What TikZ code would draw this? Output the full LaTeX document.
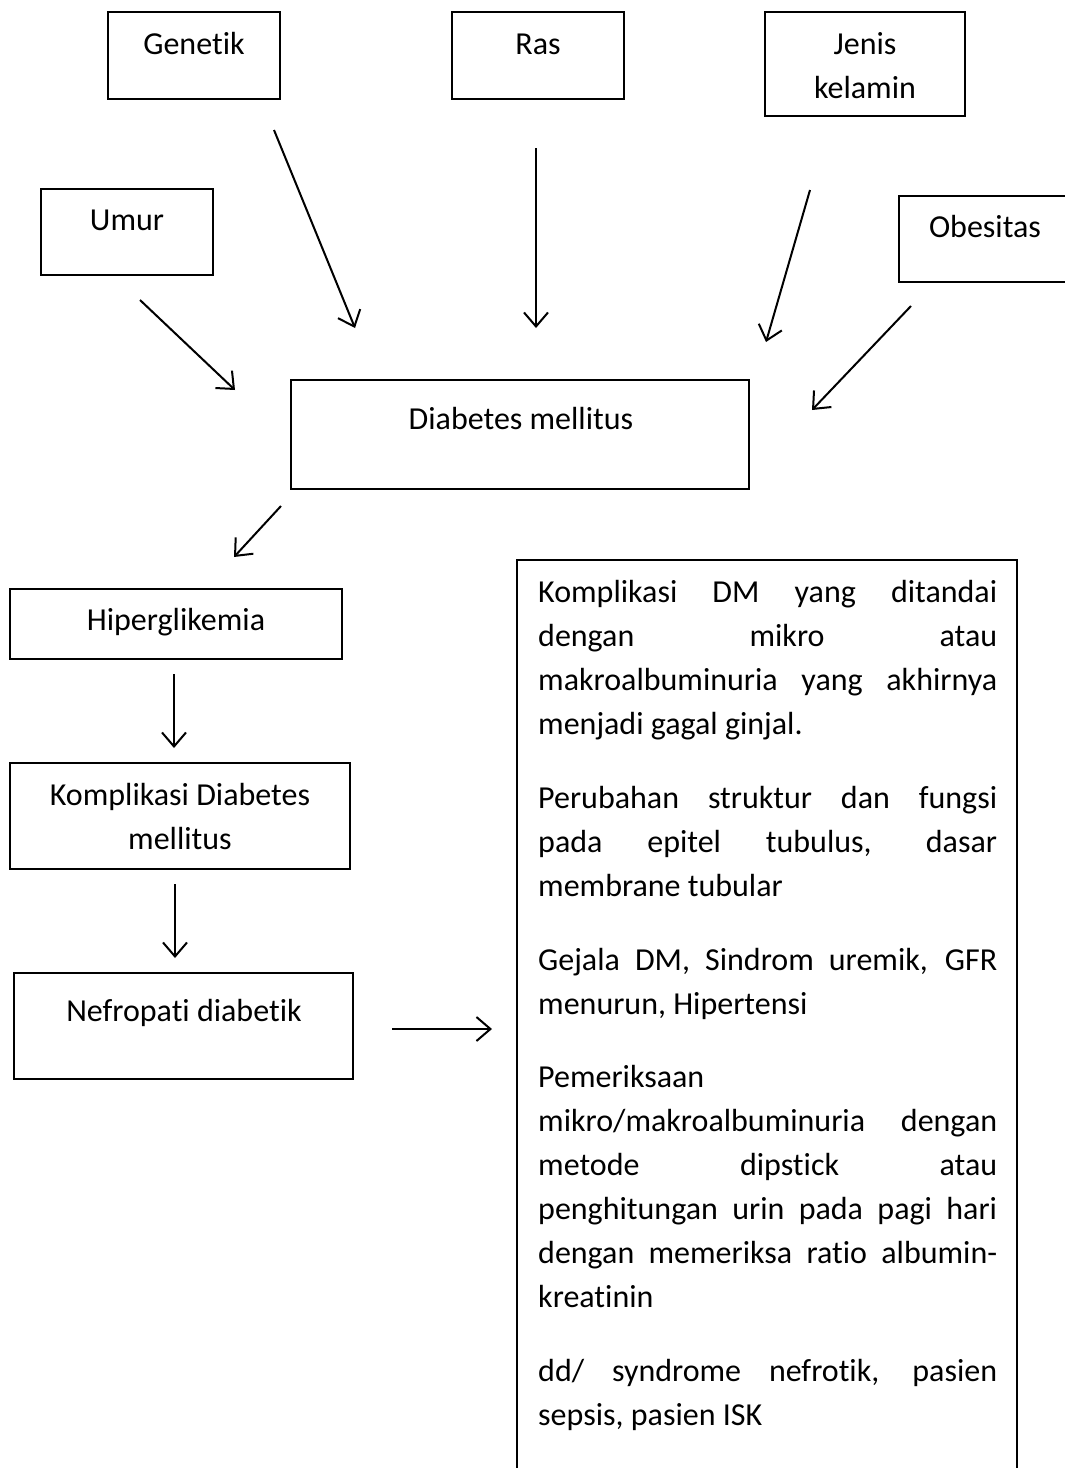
\documentclass[tikz,border=0pt]{standalone}
\usepackage{fontspec}
\setmainfont{Carlito}[Ligatures=NoCommon]
\usetikzlibrary{arrows.meta}
\tikzset{
  box/.style={draw=black, line width=1.3pt, rectangle, inner sep=0pt},
  lbl/.style={anchor=base, inner sep=0pt, font=\fontsize{32}{44}\selectfont},
  arr/.style={line width=2pt, -{Straight Barb[length=14pt,width=24pt,line width=2pt]}}
}
\begin{document}
\begin{tikzpicture}[x=1pt,y=-1pt]
\useasboundingbox (0,0) rectangle (1065,1468);
\clip (0,0) rectangle (1065,1468);
% boxes
\node[box, minimum width=172pt, minimum height=87pt] (gen) at (194,55.5) {};
\node[box, minimum width=172pt, minimum height=87pt] (ras) at (538,55.5) {};
\node[box, minimum width=200pt, minimum height=104pt] (jk) at (865,64) {};
\node[box, minimum width=172pt, minimum height=86pt] (umur) at (127,232) {};
\node[box, minimum width=190pt, minimum height=86pt] (obe) at (994,239) {};
\node[box, minimum width=458pt, minimum height=109pt] (dm) at (520,434.5) {};
\node[box, minimum width=332pt, minimum height=70pt] (hip) at (176,624) {};
\node[box, minimum width=340pt, minimum height=106pt] (kom) at (180,816) {};
\node[box, minimum width=339pt, minimum height=106pt] (nef) at (183.5,1026) {};
\node[box, minimum width=500pt, minimum height=940pt] (big) at (767,1030) {};
% labels
\node[lbl] at (194,54) {Genetik};
\node[lbl] at (538,54) {Ras};
\node[lbl] at (865,54) {Jenis};
\node[lbl] at (865,98) {kelamin};
\node[lbl] at (127,230) {Umur};
\node[lbl] at (985,237) {Obesitas};
\node[lbl] at (521,429) {Diabetes mellitus};
\node[lbl] at (176,630) {Hiperglikemia};
\node[lbl] at (180,805) {Komplikasi Diabetes};
\node[lbl] at (180,849) {mellitus};
\node[lbl] at (184,1021) {Nefropati diabetik};
\node[anchor=north west, inner sep=0pt, text width=459pt, align=justify,
      font=\fontsize{32}{44}\selectfont] (bigtxt) at (538,571.2) {\hyphenpenalty=10000\exhyphenpenalty=10000\strut
Komplikasi DM yang ditandai\linebreak
dengan mikro atau\linebreak
makroalbuminuria yang akhirnya\linebreak
menjadi gagal ginjal.\\[30pt]
Perubahan struktur dan fungsi\linebreak
pada epitel tubulus, dasar\linebreak
membrane tubular\\[30pt]
Gejala DM, Sindrom uremik, GFR\linebreak
menurun, Hipertensi\\[29pt]
Pemeriksaan\\
mikro/makroalbuminuria dengan\linebreak
metode dipstick atau\linebreak
penghitungan urin pada pagi hari\linebreak
dengan memeriksa ratio albumin-\linebreak
kreatinin\\[30pt]
dd/ syndrome nefrotik, pasien\linebreak
sepsis, pasien ISK};
% arrow end points
\coordinate (g1) at (274,130); \coordinate (g2) at (355,328);
\coordinate (r1) at (536,148); \coordinate (r2) at (536,328);
\coordinate (j1) at (810,190); \coordinate (j2) at (766,342);
\coordinate (u1) at (140,300); \coordinate (u2) at (235,390);
\coordinate (o1) at (911,306); \coordinate (o2) at (812,410);
\coordinate (d1) at (281,506); \coordinate (d2) at (234,557);
\coordinate (h1) at (174,674); \coordinate (h2) at (174,748);
\coordinate (k1) at (175,884); \coordinate (k2) at (175,958);
\coordinate (n1) at (392,1029); \coordinate (n2) at (492,1029);
\draw[arr] (g1) -- (g2);
\draw[arr] (r1) -- (r2);
\draw[arr] (j1) -- (j2);
\draw[arr] (u1) -- (u2);
\draw[arr] (o1) -- (o2);
\draw[arr] (d1) -- (d2);
\draw[arr] (h1) -- (h2);
\draw[arr] (k1) -- (k2);
\draw[arr] (n1) -- (n2);
\end{tikzpicture}
\end{document}
